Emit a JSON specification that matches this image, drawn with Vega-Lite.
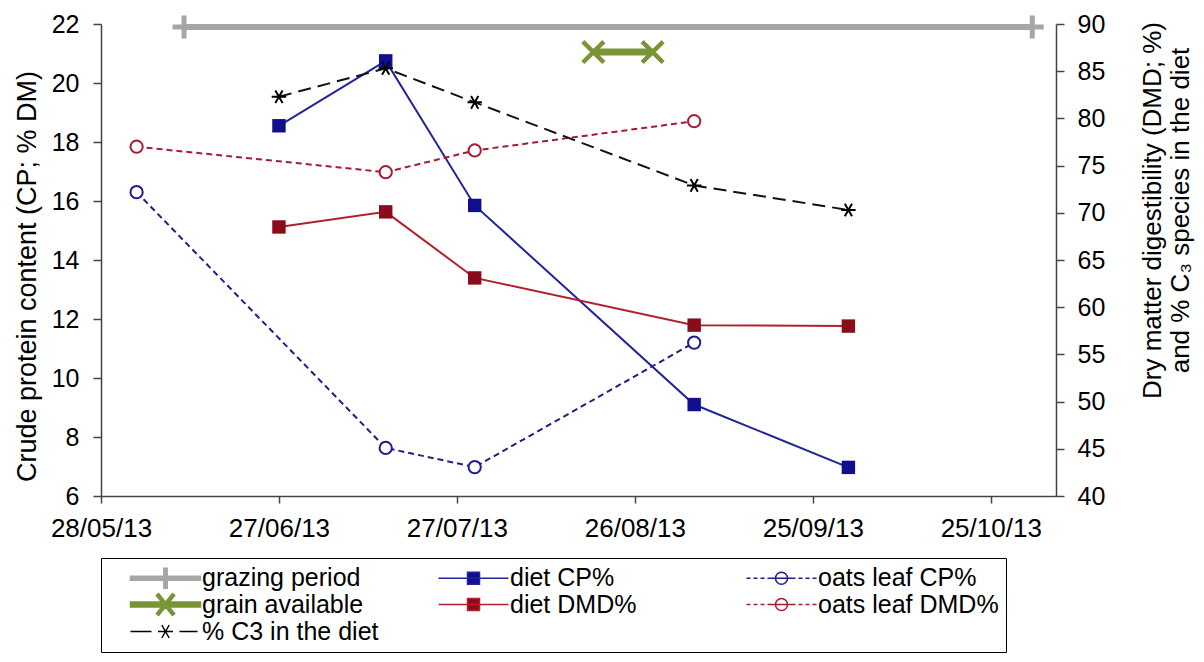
{
  "$schema": "https://vega.github.io/schema/vega-lite/v6.json",
  "width": 955,
  "height": 472,
  "autosize": {"type": "none"},
  "padding": {"left": 101, "top": 24, "right": 148, "bottom": 166},
  "background": "white",
  "config": {
    "view": {"stroke": null},
    "axis": {"labelFont": "Liberation Sans", "titleFont": "Liberation Sans", "labelColor": "#000", "titleColor": "#000", "domainColor": "#444", "tickColor": "#444", "domainWidth": 1.5, "tickWidth": 1.5, "grid": false, "titleFontWeight": "normal"}
  },
  "data": {"values": [
    {"series": "grazing period", "date": "2013/06/11", "value": 21.9},
    {"series": "grazing period", "date": "2013/11/01", "value": 21.9},
    {"series": "grain available", "date": "2013/08/19", "value": 21.05},
    {"series": "grain available", "date": "2013/08/29", "value": 21.05},
    {"series": "diet CP%", "date": "2013/06/27", "value": 18.55},
    {"series": "diet CP%", "date": "2013/07/15", "value": 20.75},
    {"series": "diet CP%", "date": "2013/07/30", "value": 15.85},
    {"series": "diet CP%", "date": "2013/09/05", "value": 9.1},
    {"series": "diet CP%", "date": "2013/10/01", "value": 6.97},
    {"series": "oats leaf CP%", "date": "2013/06/03", "value": 16.3},
    {"series": "oats leaf CP%", "date": "2013/07/15", "value": 7.63},
    {"series": "oats leaf CP%", "date": "2013/07/30", "value": 6.98},
    {"series": "oats leaf CP%", "date": "2013/09/05", "value": 11.2},
    {"series": "diet DMD%", "date": "2013/06/27", "value": 68.5},
    {"series": "diet DMD%", "date": "2013/07/15", "value": 70.1},
    {"series": "diet DMD%", "date": "2013/07/30", "value": 63.1},
    {"series": "diet DMD%", "date": "2013/09/05", "value": 58.1},
    {"series": "diet DMD%", "date": "2013/10/01", "value": 58.0},
    {"series": "oats leaf DMD%", "date": "2013/06/03", "value": 77.0},
    {"series": "oats leaf DMD%", "date": "2013/07/15", "value": 74.3},
    {"series": "oats leaf DMD%", "date": "2013/07/30", "value": 76.6},
    {"series": "oats leaf DMD%", "date": "2013/09/05", "value": 79.7},
    {"series": "% C3 in the diet", "date": "2013/06/27", "value": 82.3},
    {"series": "% C3 in the diet", "date": "2013/07/15", "value": 85.3},
    {"series": "% C3 in the diet", "date": "2013/07/30", "value": 81.7},
    {"series": "% C3 in the diet", "date": "2013/09/05", "value": 72.9},
    {"series": "% C3 in the diet", "date": "2013/10/01", "value": 70.3}
  ]},
  "encoding": {
    "x": {
      "field": "date", "type": "temporal",
      "scale": {"domain": [{"year": 2013, "month": 5, "date": 28}, {"year": 2013, "month": 11, "date": 5}]},
      "axis": {
        "title": null,
        "values": [
          {"year": 2013, "month": 5, "date": 28},
          {"year": 2013, "month": 6, "date": 27},
          {"year": 2013, "month": 7, "date": 27},
          {"year": 2013, "month": 8, "date": 26},
          {"year": 2013, "month": 9, "date": 25},
          {"year": 2013, "month": 10, "date": 25}
        ],
        "format": "%d/%m/%y", "labelFontSize": 26, "tickSize": 7, "labelPadding": 12,
        "labelFlush": false, "labelOverlap": false
      }
    }
  },
  "layer": [
    {
      "encoding": {
        "y": {
          "field": "value", "type": "quantitative",
          "scale": {"domain": [6, 22], "zero": false, "nice": false},
          "axis": {
            "orient": "left", "values": [6, 8, 10, 12, 14, 16, 18, 20, 22],
            "title": "Crude protein content (CP; % DM)", "titleFontSize": 27, "titleY": 252, "titlePadding": 10,
            "labelFontSize": 25, "tickSize": 8, "labelPadding": 14
          }
        }
      },
      "layer": [
        {
          "transform": [{"filter": "datum.series === 'grazing period'"}],
          "mark": {"type": "line", "strokeWidth": 6, "color": "#a6a6a6"},
          "encoding": {
            "color": {
              "field": "series", "type": "nominal",
              "scale": {
                "domain": ["grazing period", "diet CP%", "oats leaf CP%", "grain available", "diet DMD%", "oats leaf DMD%", "% C3 in the diet"],
                "range": ["#a6a6a6", "#23239b", "#1e1e8c", "#7a9436", "#b2202e", "#a61c30", "#000000"]
              },
              "legend": {
                "title": null, "orient": "bottom", "direction": "horizontal", "columns": 3, "gridAlign": "all",
                "symbolSize": 400, "symbolStrokeWidth": 1.5, "symbolOffset": 45, "labelOffset": 24, "columnPadding": 33, "rowPadding": -6,
                "padding": 7, "offset": 17, "strokeColor": "#000", "labelFont": "Liberation Sans", "labelFontSize": 25,
                "labelColor": "#000", "labelLimit": 400,
                "encode": {
                  "symbols": {
                    "update": {
                      "shape": {"signal": "['M-3.5,-0.2H3.5V0.2H-3.5ZM-0.17,-1H0.17V1H-0.17Z','M-3.5,0L3.5,0M-0.6,-0.6L0.6,-0.6L0.6,0.6L-0.6,0.6Z','M-3.5,0L-3.1,0M-2.8,0L-2.4,0M-2.1,0L-1.7,0M-1.4,0L-0.6,0M0.6,0L1.4,0M1.7,0L2.1,0M2.4,0L2.8,0M3.1,0L3.5,0M-0.6,0L0.6,0M-0.6,0A0.6,0.6 0 1,0 0.6,0A0.6,0.6 0 1,0 -0.6,0Z','M-3.5,-0.25H3.5V0.25H-3.5ZM-0.917,-0.906L0.683,1.094L0.917,0.906L-0.683,-1.094ZM0.917,-0.906L-0.683,1.094L-0.917,0.906L0.683,-1.094Z','M-3.5,0L3.5,0M-0.6,-0.6L0.6,-0.6L0.6,0.6L-0.6,0.6Z','M-3.5,0L-3.1,0M-2.8,0L-2.4,0M-2.1,0L-1.7,0M-1.4,0L-0.6,0M0.6,0L1.4,0M1.7,0L2.1,0M2.4,0L2.8,0M3.1,0L3.5,0M-0.6,0L0.6,0M-0.6,0A0.6,0.6 0 1,0 0.6,0A0.6,0.6 0 1,0 -0.6,0Z','M-3.5,0L-1.4,0M1.4,0L3.2,0M-0.75,0L0.75,0M-0.37,-0.65L0.37,0.65M0.37,-0.65L-0.37,0.65'][indexof(['grazing period','diet CP%','oats leaf CP%','grain available','diet DMD%','oats leaf DMD%','% C3 in the diet'], datum.value)]"},
                      "fill": {"signal": "['#a6a6a6','#10108f','#ffffff','#7a9436','#8a0c1a','#ffffff','transparent'][indexof(['grazing period','diet CP%','oats leaf CP%','grain available','diet DMD%','oats leaf DMD%','% C3 in the diet'], datum.value)]"}
                    }
                  }
                }
              }
            }
          }
        },
        {
          "transform": [{"filter": "datum.series === 'grazing period'"}],
          "mark": {"type": "point", "shape": "M-1,0L1,0M0,-1L0,1", "size": 529, "filled": false, "stroke": "#a6a6a6", "strokeWidth": 5, "opacity": 1}
        },
        {
          "transform": [{"filter": "datum.series === 'grain available'"}],
          "mark": {"type": "line", "strokeWidth": 7, "color": "#7a9436"}
        },
        {
          "transform": [{"filter": "datum.series === 'grain available'"}],
          "mark": {"type": "point", "shape": "M-1,-1L1,1M1,-1L-1,1", "size": 440, "filled": false, "stroke": "#7a9436", "strokeWidth": 4.5, "opacity": 1}
        },
        {
          "transform": [{"filter": "datum.series === 'oats leaf CP%'"}],
          "mark": {"type": "line", "strokeWidth": 2, "strokeDash": [6, 4], "color": "#1e1e8c"}
        },
        {
          "transform": [{"filter": "datum.series === 'oats leaf CP%'"}],
          "mark": {"type": "point", "shape": "circle", "size": 150, "filled": true, "fill": "#ffffff", "stroke": "#1e1e8c", "strokeWidth": 2, "opacity": 1}
        },
        {
          "transform": [{"filter": "datum.series === 'diet CP%'"}],
          "mark": {"type": "line", "strokeWidth": 2, "color": "#23239b"}
        },
        {
          "transform": [{"filter": "datum.series === 'diet CP%'"}],
          "mark": {"type": "point", "shape": "square", "size": 180, "filled": true, "fill": "#10108f", "strokeWidth": 0, "opacity": 1}
        }
      ]
    },
    {
      "encoding": {
        "y": {
          "field": "value", "type": "quantitative",
          "scale": {"domain": [40, 90], "zero": false, "nice": false},
          "axis": {
            "orient": "right", "values": [40, 45, 50, 55, 60, 65, 70, 75, 80, 85, 90],
            "title": ["Dry matter digestibility (DMD; %)", "and % C₃ species in the diet"],
            "titleFontSize": 26, "titleAngle": 270, "titleBaseline": "top", "titleLineHeight": 28, "titleY": 186, "titlePadding": 7,
            "labelFontSize": 25, "tickSize": 8, "labelPadding": 13
          }
        }
      },
      "layer": [
        {
          "transform": [{"filter": "datum.series === 'oats leaf DMD%'"}],
          "mark": {"type": "line", "strokeWidth": 2, "strokeDash": [6, 4], "color": "#a61c30"}
        },
        {
          "transform": [{"filter": "datum.series === 'oats leaf DMD%'"}],
          "mark": {"type": "point", "shape": "circle", "size": 150, "filled": true, "fill": "#ffffff", "stroke": "#a61c30", "strokeWidth": 2, "opacity": 1}
        },
        {
          "transform": [{"filter": "datum.series === 'diet DMD%'"}],
          "mark": {"type": "line", "strokeWidth": 2, "color": "#b2202e"}
        },
        {
          "transform": [{"filter": "datum.series === 'diet DMD%'"}],
          "mark": {"type": "point", "shape": "square", "size": 180, "filled": true, "fill": "#8a0c1a", "strokeWidth": 0, "opacity": 1}
        },
        {
          "transform": [{"filter": "datum.series === '% C3 in the diet'"}],
          "mark": {"type": "line", "strokeWidth": 2, "strokeDash": [13, 7], "color": "#111111"}
        },
        {
          "transform": [{"filter": "datum.series === '% C3 in the diet'"}],
          "mark": {"type": "point", "shape": "M-1,0L1,0M-0.5,-0.87L0.5,0.87M0.5,-0.87L-0.5,0.87", "size": 210, "filled": false, "stroke": "#000000", "strokeWidth": 2, "opacity": 1}
        }
      ]
    }
  ],
  "resolve": {"scale": {"y": "independent"}}
}
